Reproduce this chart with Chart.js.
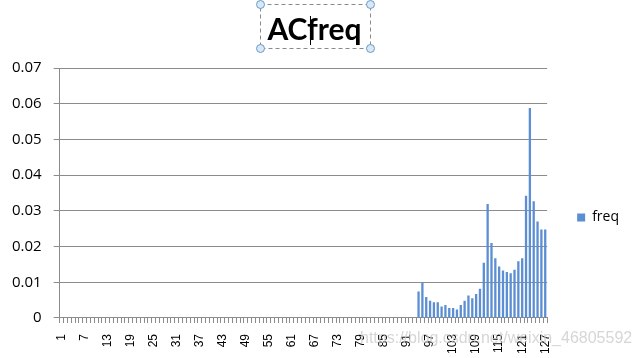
<!DOCTYPE html>
<html>
<head>
<meta charset="utf-8">
<script src="https://cdn.jsdelivr.net/npm/chart.js@4/dist/chart.umd.min.js"></script>
<style>
  html, body { margin: 0; padding: 0; background: #ffffff; }
  #wrap { width: 633px; height: 358px; position: relative; }
</style>
</head>
<body>
<div id="wrap"><canvas id="c" width="633" height="358"></canvas></div>
<script>
// ---- data ----
const titleText = "ACfreq";
const seriesName = "freq";
const categories = Array.from({length: 127}, (_, i) => String(i + 1));
const freq = [
  0,0,0,0,0,0,0,0,0,0,
  0,0,0,0,0,0,0,0,0,0,
  0,0,0,0,0,0,0,0,0,0,
  0,0,0,0,0,0,0,0,0,0,
  0,0,0,0,0,0,0,0,0,0,
  0,0,0,0,0,0,0,0,0,0,
  0,0,0,0,0,0,0,0,0,0,
  0,0,0,0,0,0,0,0,0,0,
  0,0,0,0,0,0,0,0,0,0,
  0,0,0,
  0.0074, 0.0099, 0.0059, 0.0048, 0.0044, 0.0044, 0.0032, 0.0036, 0.0028, 0.0028,
  0.0024, 0.0036, 0.0048, 0.0063, 0.0055, 0.0067, 0.0082, 0.0155, 0.0319, 0.0210,
  0.0167, 0.0144, 0.0133, 0.0129, 0.0125, 0.0135, 0.0159, 0.0167, 0.0342, 0.0588,
  0.0327, 0.0270, 0.0248, 0.0248
];
const yTicks = [0, 0.01, 0.02, 0.03, 0.04, 0.05, 0.06, 0.07];
const labelEvery = 6;
const watermark = "https://blog.csdn.net/weixin_46805592";

// ---- decoration plugin (title selection box, cursor, watermark) ----
const decor = {
  id: 'decor',
  afterDraw(chart) {
    const ctx = chart.ctx;
    const t = chart.titleBlock;
    ctx.save();
    // watermark
    ctx.font = '16px "Liberation Sans", Arial, sans-serif';
    ctx.fillStyle = 'rgba(200,200,200,0.75)';
    ctx.textAlign = 'left';
    ctx.textBaseline = 'middle';
    ctx.fillText(watermark, 360, 339);
    if (t) {
      const cx = (t.left + t.right) / 2;
      ctx.font = t.options.font.string;
      const wAll = ctx.measureText(titleText).width;
      const wAC = ctx.measureText(titleText.slice(0, 2)).width;
      // text cursor between "AC" and "freq"
      const curX = Math.round(cx - wAll / 2 + wAC) - 1.5;
      ctx.strokeStyle = '#000000';
      ctx.lineWidth = 1;
      ctx.beginPath();
      ctx.moveTo(curX, 16);
      ctx.lineTo(curX, 45);
      ctx.stroke();
      // dashed selection box with handles
      const x0 = Math.round(cx - 55) + 0.5, x1 = Math.round(cx + 55) + 0.5;
      const y0 = 4.5, y1 = 48.5;
      ctx.strokeStyle = '#8a8a8a';
      ctx.setLineDash([4, 3]);
      ctx.strokeRect(x0, y0, x1 - x0, y1 - y0);
      ctx.setLineDash([]);
      [[x0, y0], [x1, y0], [x0, y1], [x1, y1]].forEach(([x, y]) => {
        ctx.beginPath();
        ctx.arc(x, y, 4, 0, Math.PI * 2);
        ctx.fillStyle = '#d8e8f6';
        ctx.fill();
        ctx.strokeStyle = '#6a9ac8';
        ctx.stroke();
      });
    }
    ctx.restore();
  }
};

new Chart(document.getElementById('c'), {
  type: 'bar',
  data: {
    labels: categories,
    datasets: [{
      label: seriesName,
      data: freq,
      backgroundColor: '#5b8ed3',
      borderWidth: 0,
      barPercentage: 0.6,
      categoryPercentage: 1.0
    }]
  },
  options: {
    responsive: false,
    animation: false,
    devicePixelRatio: 1,
    layout: { padding: { left: 0, right: 4, top: 0, bottom: -7 } },
    plugins: {
      title: {
        display: true,
        text: titleText,
        color: '#000000',
        font: { family: 'Lato, "Open Sans", sans-serif', size: 30, weight: 'bold' },
        padding: { top: 12, bottom: 20 }
      },
      legend: {
        display: true,
        position: 'right',
        align: 'center',
        title: { display: true, text: ' ', font: { size: 10 }, padding: { top: 0, bottom: 58 } },
        labels: {
          boxWidth: 8,
          boxHeight: 8,
          padding: 10,
          color: '#000000',
          font: { family: '"Open Sans", sans-serif', size: 14 }
        }
      },
      tooltip: { enabled: false }
    },
    scales: {
      x: {
        offset: true,
        grid: {
          display: true,
          drawOnChartArea: false,
          drawTicks: true,
          tickLength: 5,
          color: '#8c8c8c',
          offset: true
        },
        border: { display: true, color: '#8c8c8c' },
        ticks: {
          autoSkip: false,
          maxRotation: 90,
          minRotation: 90,
          padding: 11,
          color: '#000000',
          font: { family: '"Liberation Sans", Arial, sans-serif', size: 12 },
          callback: (v, i) => (i % labelEvery === 0 ? categories[i] : '')
        }
      },
      y: {
        min: yTicks[0],
        max: yTicks[yTicks.length - 1],
        afterBuildTicks: (axis) => { axis.ticks = yTicks.map(v => ({ value: v })); },
        grid: {
          color: '#8c8c8c',
          lineWidth: 1,
          drawTicks: true,
          tickLength: 6
        },
        border: { display: true, color: '#8c8c8c' },
        ticks: {
          padding: 12,
          color: '#000000',
          font: { family: '"Open Sans", sans-serif', size: 15 },
          callback: (v) => (v === 0 ? '0' : v.toFixed(2))
        }
      },
      spacer: {
        type: 'linear',
        position: 'right',
        display: true,
        grid: { display: false, drawTicks: false },
        border: { display: false },
        ticks: { display: false },
        afterFit: (s) => { s.width = 20; }
      }
    }
  },
  plugins: [decor]
});
</script>
</body>
</html>
